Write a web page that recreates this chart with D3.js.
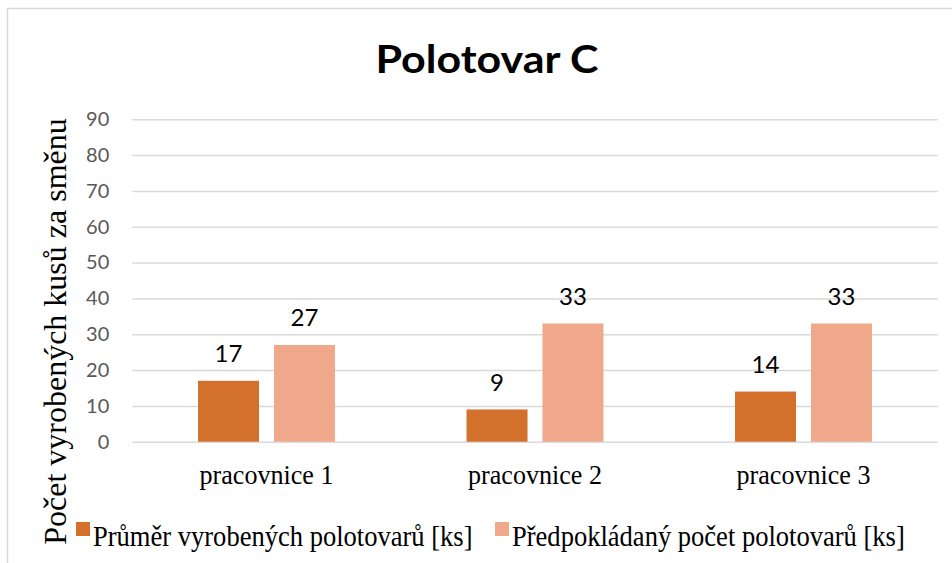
<!DOCTYPE html>
<html>
<head>
<meta charset="utf-8">
<script src="https://cdn.jsdelivr.net/npm/d3@7"></script>
<style>
   body { margin: 0; background: #fff; }
   svg { display: block; }
</style>
</head>
<body>
<div class="visHolder"></div>
<script>
const categories = ["pracovnice 1", "pracovnice 2", "pracovnice 3"];
const seriesNames = ["Průměr vyrobených polotovarů [ks]", "Předpokládaný počet polotovarů [ks]"];
const averageMade = [17, 9, 14];
const expectedCount = [27, 33, 33];
const yTicks = [0, 10, 20, 30, 40, 50, 60, 70, 80, 90];

document.addEventListener("DOMContentLoaded", () => {
   const fullWidth = 952;
   const fullHeight = 563;
   const left = 132.25;
   const right = 937.75;
   const top = 119.3;
   const bottom = 441.7;
   const colors = ["#D3702B", "#F0A88A"];
   const serif = "'Liberation Serif', 'Times New Roman', serif";
   const sans = "Lato, 'Open Sans', sans-serif";

   const series = [averageMade, expectedCount];

   const svg = d3.select(".visHolder")
      .append("svg")
      .attr("width", fullWidth)
      .attr("height", fullHeight);

   // chart frame (runs off the right and bottom edge in the original)
   svg.append("rect")
      .attr("x", 7.5)
      .attr("y", 8.5)
      .attr("width", fullWidth)
      .attr("height", fullHeight)
      .attr("fill", "none")
      .attr("stroke", "#D9D9D9")
      .attr("stroke-width", 1.5);

   svg.append("text")
      .attr("x", 487)
      .attr("y", 73)
      .attr("text-anchor", "middle")
      .style("font-family", sans)
      .attr("font-weight", "bold")
      .attr("font-size", 39)
      .attr("textLength", 223)
      .attr("lengthAdjust", "spacingAndGlyphs")
      .text("Polotovar C");

   const xScale = d3.scaleBand()
      .domain(categories)
      .range([left, right])
      .paddingInner(0.49)
      .paddingOuter(0.245);
   const xSub = d3.scaleBand()
      .domain(d3.range(series.length))
      .range([0, xScale.bandwidth()])
      .paddingInner(0.197);
   const yScale = d3.scaleLinear()
      .domain([0, 90])
      .range([bottom, top]);

   // gridlines + tick labels
   const yAxis = d3.axisLeft(yScale)
      .tickValues(yTicks)
      .tickSize(-(right - left))
      .tickPadding(23);
   const yG = svg.append("g")
      .attr("id", "y-axis")
      .attr("transform", "translate(" + left + ",0)")
      .attr("font-size", null)
      .attr("font-family", null)
      .call(yAxis);
   yG.select(".domain").remove();
   yG.selectAll(".tick line")
      .attr("stroke", "#D9D9D9")
      .attr("stroke-width", 1.5);
   yG.selectAll(".tick text")
      .attr("fill", "#595959")
      .style("font-family", sans)
      .style("font-size", "20px");

   const xAxis = d3.axisBottom(xScale).tickSize(0).tickPadding(0);
   const xG = svg.append("g")
      .attr("id", "x-axis")
      .attr("transform", "translate(0," + bottom + ")")
      .call(xAxis);
   xG.select(".domain").remove();
   xG.selectAll(".tick text")
      .attr("dy", null)
      .attr("y", 42.5)
      .attr("fill", "#000")
      .style("font-family", serif)
      .style("font-size", "27px")
      .attr("textLength", 134)
      .attr("lengthAdjust", "spacingAndGlyphs");

   const groups = svg.selectAll(".series")
      .data(series)
      .enter()
      .append("g")
      .attr("class", "series")
      .attr("fill", (d, i) => colors[i]);

   groups.selectAll("rect")
      .data((d, i) => d.map((v, j) => ({ v: v, s: i, c: categories[j] })))
      .enter()
      .append("rect")
      .attr("x", d => xScale(d.c) + xSub(d.s))
      .attr("y", d => yScale(d.v))
      .attr("width", xSub.bandwidth())
      .attr("height", d => bottom - yScale(d.v));

   groups.selectAll("text")
      .data((d, i) => d.map((v, j) => ({ v: v, s: i, c: categories[j] })))
      .enter()
      .append("text")
      .attr("x", d => xScale(d.c) + xSub(d.s) + xSub.bandwidth() / 2)
      .attr("y", d => yScale(d.v) - 18.5)
      .attr("text-anchor", "middle")
      .attr("fill", "#000")
      .style("font-family", sans)
      .style("font-size", "24px")
      .text(d => d.v);

   // y axis title
   svg.append("text")
      .attr("transform", "translate(66,331.5) rotate(-90)")
      .attr("text-anchor", "middle")
      .style("font-family", serif)
      .style("font-size", "32px")
      .attr("fill", "#000")
      .text("Počet vyrobených kusů za směnu");

   // legend, text a bit condensed like the original
   const legendX = [76, 495];
   const legend = svg.selectAll(".legend")
      .data(seriesNames)
      .enter()
      .append("g")
      .attr("class", "legend")
      .attr("transform", (d, i) => "translate(" + legendX[i] + ",522)");
   legend.append("rect")
      .attr("width", 14)
      .attr("height", 14)
      .attr("fill", (d, i) => colors[i]);
   legend.append("text")
      .attr("transform", "translate(17,24) scale(0.885,1)")
      .style("font-family", serif)
      .style("font-size", "30px")
      .text(d => d);
});
</script>
</body>
</html>
